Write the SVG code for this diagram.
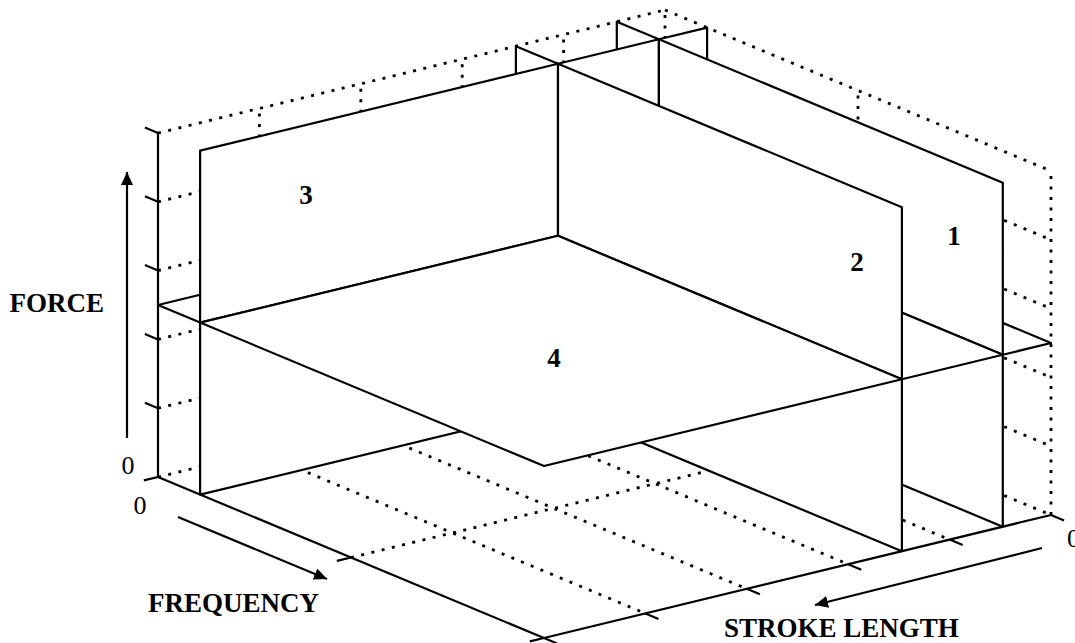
<svg xmlns="http://www.w3.org/2000/svg" width="1075" height="643" viewBox="0 0 1075 643">
  <defs>
    <style>
      .pl { fill: #fff; stroke: #000; stroke-width: 2.2; stroke-linejoin: round; }
      .dot { fill: none; stroke: #000; stroke-width: 2.8; stroke-dasharray: 3 7.5; }
      .ax { fill: none; stroke: #000; stroke-width: 2.2; }
      .lbl { font-family: "Liberation Serif", "Times New Roman", serif; font-weight: bold; font-size: 27px; fill: #000; }
      .num { font-family: "Liberation Serif", "Times New Roman", serif; font-size: 26px; fill: #000; }
    </style>
    <marker id="head" markerUnits="userSpaceOnUse" markerWidth="14" markerHeight="12" refX="13" refY="6" orient="auto">
      <path d="M0,0 L13,6 L0,12 z" fill="#000"/>
    </marker>
  </defs>

  <rect width="1075" height="643" fill="#fff"/>

  <!-- back walls and floor of the box: dotted grid -->
  <g id="grid">
    <!-- left wall (frequency = 0) -->
    <path class="dot" d="M158,133 L665,10"/>
    <path class="dot" d="M158,201.8 L665,78.8"/>
    <path class="dot" d="M158,270.6 L665,147.6"/>
    <path class="dot" d="M158,339.4 L665,216.4"/>
    <path class="dot" d="M158,408.2 L665,285.2"/>
    <path class="dot" d="M158,477 L665,354"/>
    <path class="dot" d="M259.4,452.4 L259.4,108.4"/>
    <path class="dot" d="M360.8,427.8 L360.8,83.8"/>
    <path class="dot" d="M462.2,403.2 L462.2,59.2"/>
    <path class="dot" d="M563.6,378.6 L563.6,34.6"/>
    <path class="dot" d="M665,354 L665,10"/>
    <!-- right wall (stroke = 0) -->
    <path class="dot" d="M665,10 L1051,171"/>
    <path class="dot" d="M665,78.8 L1051,239.8"/>
    <path class="dot" d="M665,147.6 L1051,308.6"/>
    <path class="dot" d="M665,216.4 L1051,377.4"/>
    <path class="dot" d="M665,285.2 L1051,446.2"/>
    <path class="dot" d="M665,354 L1051,515"/>
    <path class="dot" d="M858,434.5 L858,90.5"/>
    <path class="dot" d="M1051,515 L1051,171"/>
    <!-- floor -->
    <path class="dot" d="M259.4,452.4 L645.4,613.4"/>
    <path class="dot" d="M360.8,427.8 L746.8,588.8"/>
    <path class="dot" d="M462.2,403.2 L848.2,564.2"/>
    <path class="dot" d="M563.6,378.6 L949.6,539.6"/>
    <path class="dot" d="M351,557.5 L858,434.5"/>
  </g>

  <!-- opaque planes, split along their intersections and painted back to front -->
  <g id="planes">
    <!-- depth 1 -->
    <polygon id="p3-e" class="pl" points="658.9,383.3 707.1,371.6 707.1,199.6 658.9,211.3"/>
    <polygon id="p1-a" class="pl" points="616.8,365.7 658.9,383.3 658.9,211.3 616.8,193.7"/>
    <polygon id="p4-c" class="pl" points="616.8,193.7 658.9,211.3 707.1,199.6 665,182"/>
    <!-- depth 2 -->
    <polygon id="p3-c" class="pl" points="558,407.8 658.9,383.3 658.9,211.3 558,235.8"/>
    <polygon id="p3-f" class="pl" points="658.9,211.3 707.1,199.6 707.1,27.6 658.9,39.3"/>
    <polygon id="p2-a" class="pl" points="515.9,390.2 558,407.8 558,235.8 515.9,218.2"/>
    <polygon id="p1-b" class="pl" points="616.8,193.7 658.9,211.3 658.9,39.3 616.8,21.7"/>
    <polygon id="p1-c" class="pl" points="658.9,383.3 1002.8,526.7 1002.8,354.7 658.9,211.3"/>
    <polygon id="p4-b" class="pl" points="515.9,218.2 558,235.8 658.9,211.3 616.8,193.7"/>
    <polygon id="p4-f" class="pl" points="658.9,211.3 1002.8,354.7 1051,343 707.1,199.6"/>
    <!-- depth 3 -->
    <polygon id="p3-a" class="pl" points="200.1,494.6 558,407.8 558,235.8 200.1,322.6"/>
    <polygon id="p3-d" class="pl" points="558,235.8 658.9,211.3 658.9,39.3 558,63.8"/>
    <polygon id="p2-b" class="pl" points="515.9,218.2 558,235.8 558,63.8 515.9,46.2"/>
    <polygon id="p2-c" class="pl" points="558,407.8 901.9,551.2 901.9,379.2 558,235.8"/>
    <polygon id="p1-d" class="pl" points="658.9,211.3 1002.8,354.7 1002.8,182.7 658.9,39.3"/>
    <polygon id="p4-a" class="pl" points="158,305 200.1,322.6 558,235.8 515.9,218.2"/>
    <polygon id="p4-e" class="pl" points="558,235.8 901.9,379.2 1002.8,354.7 658.9,211.3"/>
    <!-- depth 4 -->
    <polygon id="p3-b" class="pl" points="200.1,322.6 558,235.8 558,63.8 200.1,150.6"/>
    <polygon id="p2-d" class="pl" points="558,235.8 901.9,379.2 901.9,207.2 558,63.8"/>
    <polygon id="p4-d" class="pl" points="200.1,322.6 544,466 901.9,379.2 558,235.8"/>
  </g>

  <!-- axes with tick marks -->
  <g id="axes">
    <path class="ax" d="M158,477 L158,133"/>
    <path class="ax" d="M158,477 L544,638"/>
    <path class="ax" d="M544,638 L1051,515"/>
    <path class="ax" d="M158,408.2 l-13.1,-5.5 M158,339.4 l-13.1,-5.5 M158,270.6 l-13.1,-5.5 M158,201.8 l-13.1,-5.5 M158,133 l-13.1,-5.5"/>
    <path class="ax" d="M158,477 l-14.2,3.4 M351,557.5 l-14.2,3.4 M544,638 l-14.2,3.4"/>
    <path class="ax" d="M544,638 l13.1,5.5 M645.4,613.4 l13.1,5.5 M746.8,588.8 l13.1,5.5 M848.2,564.2 l13.1,5.5 M949.6,539.6 l13.1,5.5 M1051,515 l13.1,5.5"/>
  </g>

  <!-- direction arrows -->
  <g id="arrows">
    <path class="ax" d="M127,438 L127,172" marker-end="url(#head)"/>
    <path class="ax" d="M178,517 L327,579" marker-end="url(#head)"/>
    <path class="ax" d="M1042,548 L815,605" marker-end="url(#head)"/>
  </g>

  <!-- labels -->
  <g id="labels">
    <text class="lbl" x="104" y="312" text-anchor="end">FORCE</text>
    <text class="lbl" x="148" y="612">FREQUENCY</text>
    <text class="lbl" x="724" y="637">STROKE LENGTH</text>
    <text class="lbl" x="306" y="204" text-anchor="middle">3</text>
    <text class="lbl" x="554" y="367" text-anchor="middle">4</text>
    <text class="lbl" x="857" y="271" text-anchor="middle">2</text>
    <text class="lbl" x="954" y="245" text-anchor="middle">1</text>
    <text class="num" x="128" y="474" text-anchor="middle">0</text>
    <text class="num" x="140" y="514" text-anchor="middle">0</text>
    <text class="num" x="1067" y="547">0</text>
  </g>
</svg>
